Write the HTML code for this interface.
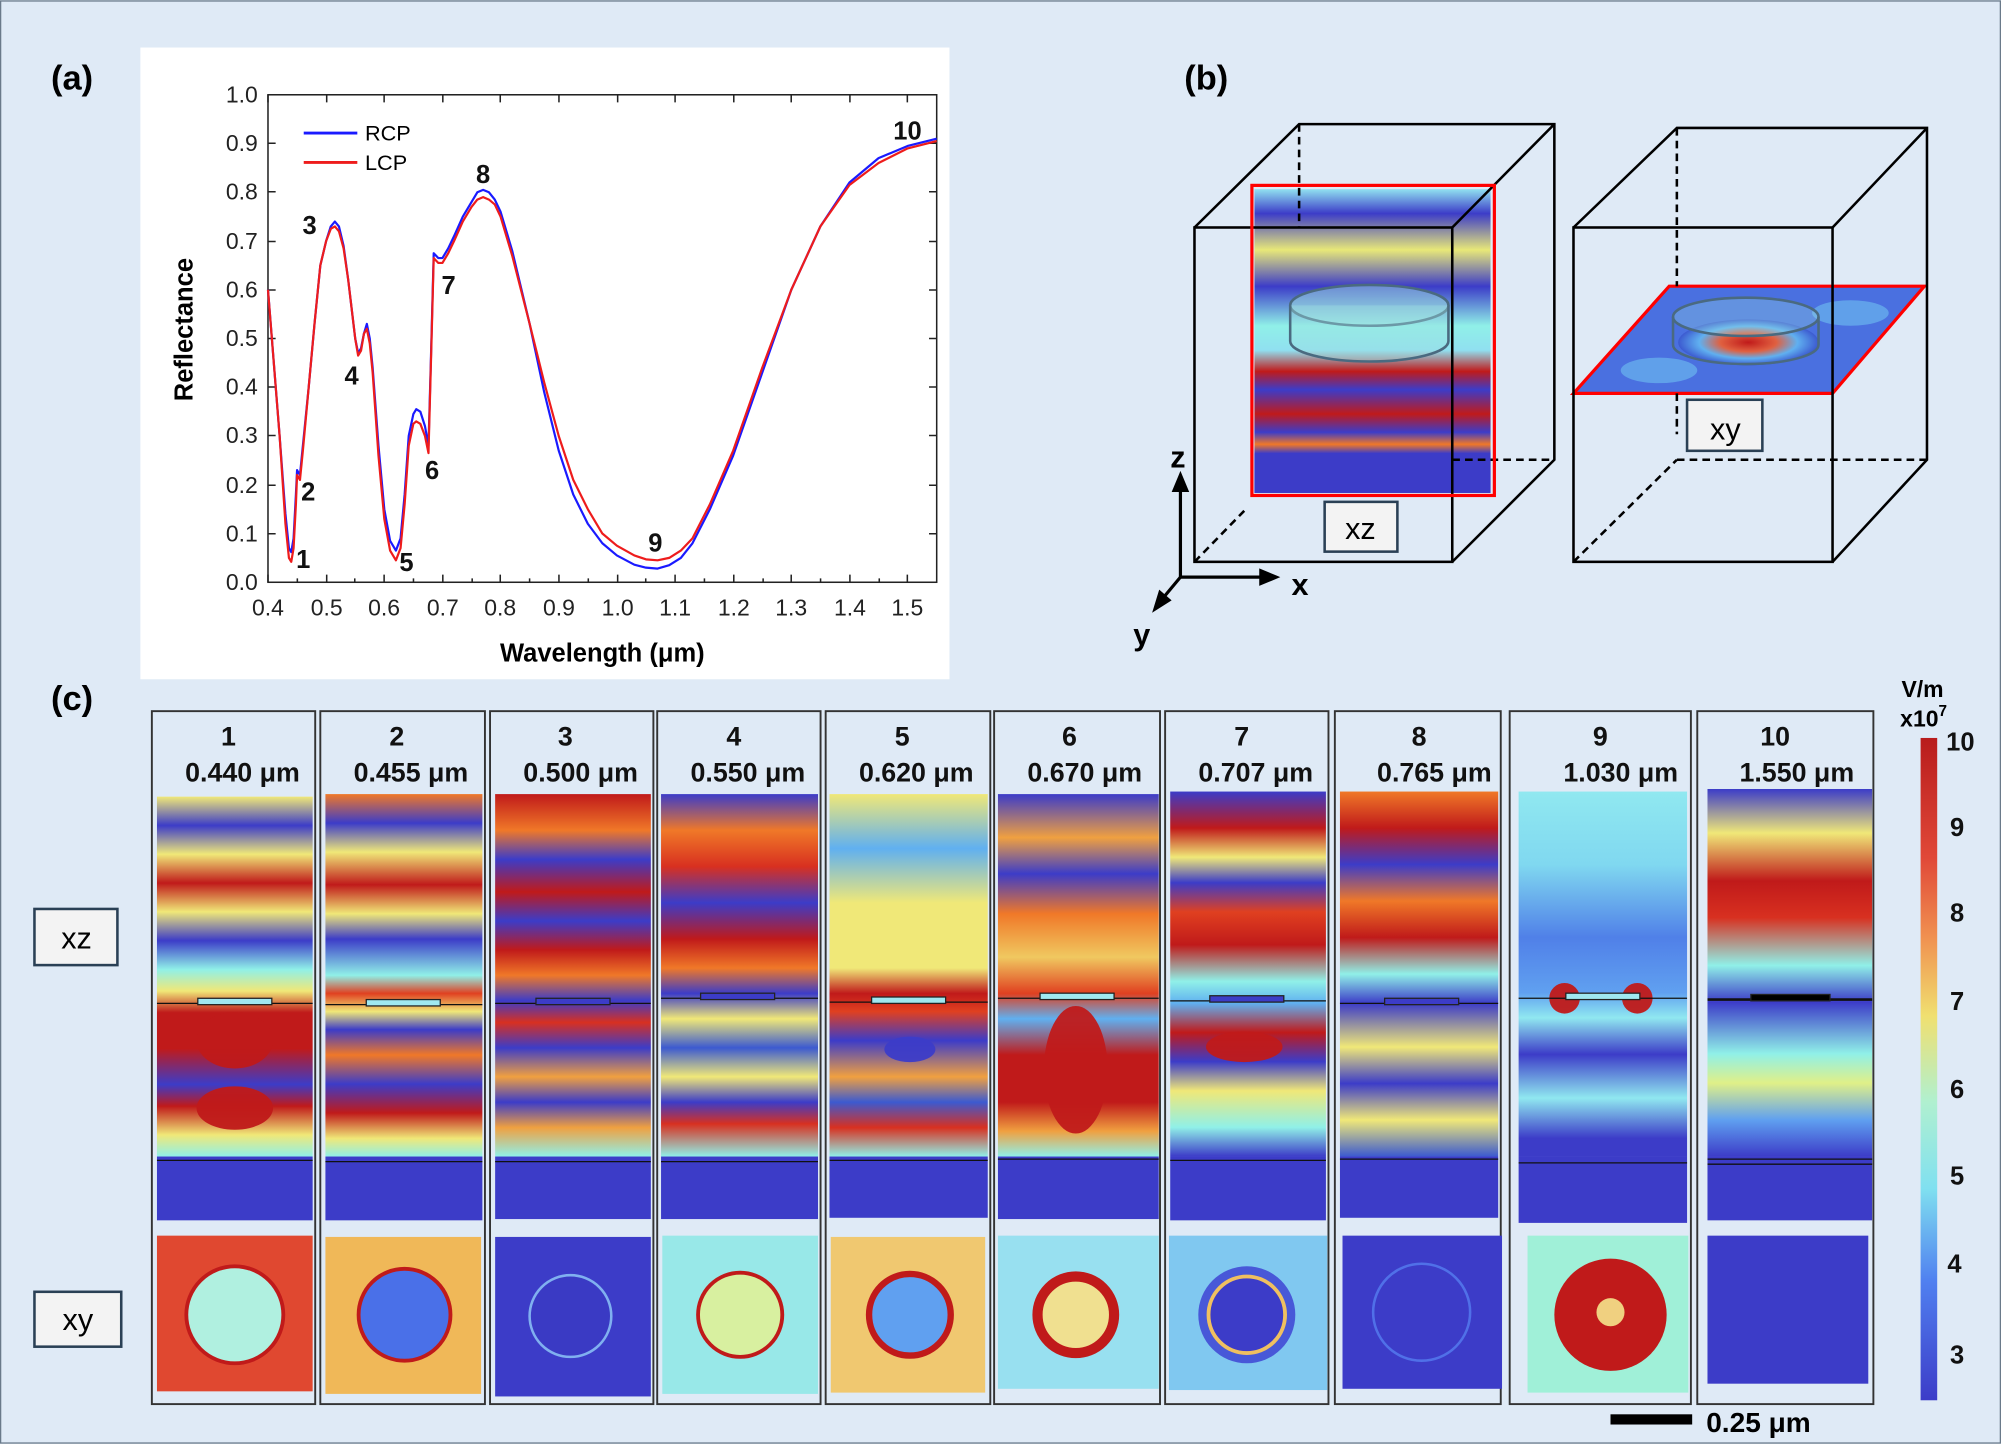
<!DOCTYPE html>
<html><head><meta charset="utf-8"><style>
html,body{margin:0;padding:0;background:#dfeaf6;}
svg{display:block;}
text{font-family:"Liberation Sans",Arial,sans-serif;}
</style></head><body>
<svg width="2001" height="1444" viewBox="0 0 1568 1131" xmlns="http://www.w3.org/2000/svg">
<defs>
<linearGradient id="g1" x1="0" y1="0" x2="0" y2="1"><stop offset="0" stop-color="#f0e878"/><stop offset=".08" stop-color="#3c3cc8"/><stop offset=".16" stop-color="#f0e878"/><stop offset=".24" stop-color="#c01a1a"/><stop offset=".32" stop-color="#f0e878"/><stop offset=".4" stop-color="#3c3cc8"/><stop offset=".48" stop-color="#90f0e8"/><stop offset=".54" stop-color="#f0e878"/><stop offset=".6" stop-color="#c01a1a"/><stop offset=".7" stop-color="#c01a1a"/><stop offset=".8" stop-color="#3c3cc8"/><stop offset=".86" stop-color="#c01a1a"/><stop offset=".94" stop-color="#f0e878"/><stop offset="1" stop-color="#90f0e8"/></linearGradient>
<linearGradient id="g2" x1="0" y1="0" x2="0" y2="1"><stop offset="0" stop-color="#f07828"/><stop offset=".08" stop-color="#3c3cc8"/><stop offset=".16" stop-color="#f0e878"/><stop offset=".25" stop-color="#c01a1a"/><stop offset=".33" stop-color="#f0e878"/><stop offset=".4" stop-color="#3c3cc8"/><stop offset=".5" stop-color="#90f0e8"/><stop offset=".55" stop-color="#e04020"/><stop offset=".6" stop-color="#f0e878"/><stop offset=".65" stop-color="#3c3cc8"/><stop offset=".72" stop-color="#f07828"/><stop offset=".8" stop-color="#3c3cc8"/><stop offset=".88" stop-color="#c01a1a"/><stop offset=".95" stop-color="#f0e878"/><stop offset="1" stop-color="#90f0e8"/></linearGradient>
<linearGradient id="g3" x1="0" y1="0" x2="0" y2="1"><stop offset="0" stop-color="#c01a1a"/><stop offset=".1" stop-color="#f07828"/><stop offset=".18" stop-color="#3c3cc8"/><stop offset=".27" stop-color="#c01a1a"/><stop offset=".35" stop-color="#3c3cc8"/><stop offset=".43" stop-color="#c01a1a"/><stop offset=".5" stop-color="#f07828"/><stop offset=".57" stop-color="#3c3cc8"/><stop offset=".63" stop-color="#d83020"/><stop offset=".7" stop-color="#3c3cc8"/><stop offset=".78" stop-color="#f0a040"/><stop offset=".85" stop-color="#3c3cc8"/><stop offset=".92" stop-color="#f0a040"/><stop offset="1" stop-color="#90f0e8"/></linearGradient>
<linearGradient id="g4" x1="0" y1="0" x2="0" y2="1"><stop offset="0" stop-color="#3c3cc8"/><stop offset=".1" stop-color="#f07828"/><stop offset=".2" stop-color="#d83020"/><stop offset=".3" stop-color="#3c3cc8"/><stop offset=".4" stop-color="#c01a1a"/><stop offset=".48" stop-color="#f07828"/><stop offset=".55" stop-color="#3c3cc8"/><stop offset=".62" stop-color="#f0e878"/><stop offset=".7" stop-color="#3c5ad0"/><stop offset=".78" stop-color="#f0e878"/><stop offset=".85" stop-color="#3c3cc8"/><stop offset=".91" stop-color="#d83020"/><stop offset="1" stop-color="#90f0e8"/></linearGradient>
<linearGradient id="g5" x1="0" y1="0" x2="0" y2="1"><stop offset="0" stop-color="#f0e878"/><stop offset=".15" stop-color="#60b0f0"/><stop offset=".3" stop-color="#f0e878"/><stop offset=".48" stop-color="#f0e878"/><stop offset=".55" stop-color="#c01a1a"/><stop offset=".6" stop-color="#e04020"/><stop offset=".68" stop-color="#3c3cc8"/><stop offset=".78" stop-color="#f0a040"/><stop offset=".85" stop-color="#3c5ad0"/><stop offset=".92" stop-color="#d83020"/><stop offset="1" stop-color="#90f0e8"/></linearGradient>
<linearGradient id="g6" x1="0" y1="0" x2="0" y2="1"><stop offset="0" stop-color="#3c3cc8"/><stop offset=".12" stop-color="#f0a040"/><stop offset=".22" stop-color="#3c3cc8"/><stop offset=".33" stop-color="#f07828"/><stop offset=".45" stop-color="#f0c860"/><stop offset=".55" stop-color="#e04020"/><stop offset=".62" stop-color="#60b0f0"/><stop offset=".72" stop-color="#c01a1a"/><stop offset=".85" stop-color="#c01a1a"/><stop offset=".93" stop-color="#f0a040"/><stop offset="1" stop-color="#90f0e8"/></linearGradient>
<linearGradient id="g7" x1="0" y1="0" x2="0" y2="1"><stop offset="0" stop-color="#3c3cc8"/><stop offset=".1" stop-color="#c01a1a"/><stop offset=".18" stop-color="#f0e878"/><stop offset=".25" stop-color="#3c3cc8"/><stop offset=".33" stop-color="#e04020"/><stop offset=".42" stop-color="#c01a1a"/><stop offset=".52" stop-color="#90f0e8"/><stop offset=".58" stop-color="#60b0f0"/><stop offset=".66" stop-color="#c01a1a"/><stop offset=".74" stop-color="#3c3cc8"/><stop offset=".82" stop-color="#f0e878"/><stop offset=".92" stop-color="#90f0e8"/><stop offset="1" stop-color="#3c3cc8"/></linearGradient>
<linearGradient id="g8" x1="0" y1="0" x2="0" y2="1"><stop offset="0" stop-color="#f07828"/><stop offset=".1" stop-color="#c01a1a"/><stop offset=".2" stop-color="#3c3cc8"/><stop offset=".3" stop-color="#f07828"/><stop offset=".4" stop-color="#c01a1a"/><stop offset=".5" stop-color="#90f0e8"/><stop offset=".58" stop-color="#3c3cc8"/><stop offset=".7" stop-color="#f0e878"/><stop offset=".8" stop-color="#3c3cc8"/><stop offset=".9" stop-color="#f0e878"/><stop offset="1" stop-color="#3c5ad0"/></linearGradient>
<linearGradient id="g9" x1="0" y1="0" x2="0" y2="1"><stop offset="0" stop-color="#90e8f0"/><stop offset=".2" stop-color="#80d8f0"/><stop offset=".4" stop-color="#5080e8"/><stop offset=".55" stop-color="#60a0f0"/><stop offset=".62" stop-color="#90e8f0"/><stop offset=".72" stop-color="#3c3cc8"/><stop offset=".84" stop-color="#90e8f0"/><stop offset=".95" stop-color="#3c3cc8"/><stop offset="1" stop-color="#3c3cc8"/></linearGradient>
<linearGradient id="g10" x1="0" y1="0" x2="0" y2="1"><stop offset="0" stop-color="#3c3cc8"/><stop offset=".12" stop-color="#f0e878"/><stop offset=".25" stop-color="#c01a1a"/><stop offset=".35" stop-color="#d83020"/><stop offset=".48" stop-color="#90f0e8"/><stop offset=".58" stop-color="#3c3cc8"/><stop offset=".72" stop-color="#90f0e8"/><stop offset=".8" stop-color="#e0f088"/><stop offset=".9" stop-color="#60a0f0"/><stop offset="1" stop-color="#3c3cc8"/></linearGradient>
<linearGradient id="gb" x1="0" y1="0" x2="0" y2="1"><stop offset="0" stop-color="#90e0f0"/><stop offset=".08" stop-color="#3c3cc8"/><stop offset=".2" stop-color="#e8e878"/><stop offset=".32" stop-color="#3c3cc8"/><stop offset=".45" stop-color="#90f0e8"/><stop offset=".53" stop-color="#90e0f0"/><stop offset=".6" stop-color="#c01a1a"/><stop offset=".66" stop-color="#3c3cc8"/><stop offset=".74" stop-color="#c01a1a"/><stop offset=".8" stop-color="#3c3cc8"/><stop offset=".84" stop-color="#f07828"/><stop offset=".87" stop-color="#3c3cc8"/><stop offset="1" stop-color="#3c3cc8"/></linearGradient>
<linearGradient id="cb" x1="0" y1="0" x2="0" y2="1"><stop offset="0" stop-color="#b81c1c"/><stop offset=".18" stop-color="#e04838"/><stop offset=".3" stop-color="#f09050"/><stop offset=".42" stop-color="#f0e070"/><stop offset=".55" stop-color="#b0f0d0"/><stop offset=".68" stop-color="#80e0f0"/><stop offset=".82" stop-color="#5080f0"/><stop offset="1" stop-color="#3c3cc8"/></linearGradient>
<radialGradient id="rxy"><stop offset="0" stop-color="#c01a1a"/><stop offset=".4" stop-color="#e06040"/><stop offset=".7" stop-color="#60b0f0"/><stop offset="1" stop-color="#3c5ad0"/></radialGradient>
</defs>
<rect x="0.5" y="0.5" width="1567" height="1130" fill="#dfeaf6" stroke="#6a7a8a"/>

<!-- (a) -->
<text x="40" y="70" font-size="27" font-weight="bold">(a)</text>
<rect x="110" y="37" width="634" height="495" fill="#fff"/>
<g stroke="#222" stroke-width="1.2" fill="none">
<rect x="210" y="74" width="524" height="382"/>
<path d="M210,456v-6M233,456v-3M256,456v-6M278,456v-3M301,456v-6M324,456v-3M347,456v-6M370,456v-3M392,456v-6M415,456v-3M438,456v-6M461,456v-3M484,456v-6M506,456v-3M529,456v-6M552,456v-3M575,456v-6M598,456v-3M620,456v-6M643,456v-3M666,456v-6M689,456v-3M711,456v-6"/>
<path d="M210,74v6M256,74v6M301,74v6M347,74v6M392,74v6M438,74v6M484,74v6M529,74v6M575,74v6M620,74v6M666,74v6M711,74v6"/>
<path d="M210,418h6M210,380h6M210,341h6M210,303h6M210,265h6M210,227h6M210,189h6M210,150h6M210,112h6M734,418h-6M734,380h-6M734,341h-6M734,303h-6M734,265h-6M734,227h-6M734,189h-6M734,150h-6M734,112h-6"/>
</g>
<g font-size="18" text-anchor="end" fill="#222">
<text x="202" y="462">0.0</text><text x="202" y="424">0.1</text><text x="202" y="386">0.2</text><text x="202" y="347">0.3</text><text x="202" y="309">0.4</text><text x="202" y="271">0.5</text><text x="202" y="233">0.6</text><text x="202" y="195">0.7</text><text x="202" y="156">0.8</text><text x="202" y="118">0.9</text><text x="202" y="80">1.0</text>
</g>
<g font-size="18" text-anchor="middle" fill="#222">
<text x="210" y="482">0.4</text><text x="256" y="482">0.5</text><text x="301" y="482">0.6</text><text x="347" y="482">0.7</text><text x="392" y="482">0.8</text><text x="438" y="482">0.9</text><text x="484" y="482">1.0</text><text x="529" y="482">1.1</text><text x="575" y="482">1.2</text><text x="620" y="482">1.3</text><text x="666" y="482">1.4</text><text x="711" y="482">1.5</text>
</g>
<text x="472" y="518" font-size="20" font-weight="bold" text-anchor="middle">Wavelength (μm)</text>
<text transform="translate(151,258) rotate(-90)" font-size="20" font-weight="bold" text-anchor="middle">Reflectance</text>
<line x1="238" y1="104" x2="280" y2="104" stroke="#1a1aff" stroke-width="2.2"/>
<text x="286" y="110" font-size="17">RCP</text>
<line x1="238" y1="127" x2="280" y2="127" stroke="#ee1c1c" stroke-width="2.2"/>
<text x="286" y="133" font-size="17">LCP</text>
<g transform="translate(210,456) scale(455.65,-382) translate(-0.4,0)" fill="none" stroke-width="2.2" stroke-linejoin="round">
<polyline vector-effect="non-scaling-stroke" stroke="#1a1aff" points="0.4,0.6 0.41,0.45 0.42,0.3 0.43,0.14 0.436,0.07 0.44,0.062 0.444,0.09 0.448,0.18 0.45,0.23 0.455,0.22 0.46,0.28 0.47,0.4 0.48,0.53 0.49,0.65 0.5,0.7 0.508,0.73 0.515,0.74 0.522,0.73 0.53,0.69 0.538,0.62 0.545,0.55 0.55,0.5 0.555,0.47 0.56,0.48 0.565,0.51 0.57,0.53 0.575,0.5 0.58,0.44 0.59,0.28 0.6,0.15 0.61,0.085 0.62,0.065 0.628,0.09 0.635,0.18 0.642,0.3 0.65,0.345 0.655,0.355 0.662,0.35 0.67,0.32 0.676,0.28 0.68,0.45 0.685,0.675 0.693,0.665 0.7,0.665 0.71,0.685 0.72,0.71 0.735,0.75 0.75,0.78 0.76,0.8 0.77,0.805 0.78,0.8 0.79,0.785 0.8,0.76 0.82,0.68 0.85,0.53 0.875,0.39 0.9,0.27 0.925,0.18 0.95,0.12 0.975,0.08 1.0,0.055 1.03,0.036 1.05,0.03 1.07,0.028 1.09,0.035 1.11,0.05 1.13,0.08 1.16,0.15 1.2,0.26 1.25,0.43 1.3,0.6 1.35,0.73 1.4,0.82 1.45,0.87 1.5,0.895 1.55,0.91"/>
<polyline vector-effect="non-scaling-stroke" stroke="#ee1c1c" points="0.4,0.6 0.41,0.45 0.42,0.3 0.43,0.12 0.436,0.05 0.44,0.042 0.444,0.07 0.448,0.16 0.45,0.22 0.455,0.21 0.46,0.27 0.47,0.4 0.48,0.53 0.49,0.65 0.5,0.7 0.508,0.725 0.515,0.73 0.522,0.72 0.53,0.685 0.538,0.62 0.545,0.55 0.55,0.5 0.555,0.465 0.56,0.475 0.565,0.51 0.57,0.52 0.575,0.49 0.58,0.43 0.59,0.26 0.6,0.13 0.61,0.065 0.62,0.045 0.628,0.07 0.635,0.16 0.642,0.28 0.65,0.325 0.655,0.33 0.662,0.325 0.67,0.3 0.676,0.265 0.68,0.44 0.685,0.665 0.693,0.655 0.7,0.655 0.71,0.675 0.72,0.7 0.735,0.74 0.75,0.77 0.76,0.785 0.77,0.79 0.78,0.785 0.79,0.775 0.8,0.75 0.82,0.67 0.85,0.53 0.875,0.41 0.9,0.3 0.925,0.21 0.95,0.15 0.975,0.1 1.0,0.075 1.03,0.055 1.05,0.047 1.07,0.045 1.09,0.05 1.11,0.065 1.13,0.09 1.16,0.16 1.2,0.27 1.25,0.44 1.3,0.6 1.35,0.73 1.4,0.815 1.45,0.86 1.5,0.89 1.55,0.905"/>
</g>
<g font-size="20" font-weight="bold" fill="#111">
<text x="232" y="445">1</text><text x="236" y="392">2</text><text x="237" y="183">3</text><text x="270" y="301">4</text><text x="313" y="447">5</text><text x="333" y="375">6</text><text x="346" y="230">7</text><text x="373" y="143">8</text><text x="508" y="432">9</text><text x="700" y="109">10</text>
</g>

<!-- (b) -->
<text x="928" y="70" font-size="27" font-weight="bold">(b)</text>
<rect x="983" y="148" width="185" height="238" fill="url(#gb)"/>
<rect x="983" y="355" width="185" height="31" fill="#3c3cc8"/>
<ellipse cx="1073" cy="239" rx="62" ry="16" fill="#a0e0e0" fill-opacity=".5" stroke="#4a6a80" stroke-width="2"/>
<path d="M1011,239v28a62,16 0 0 0 124,0v-28" fill="#a0e0e0" fill-opacity=".4" stroke="#4a6a80" stroke-width="2"/>
<g fill="none" stroke="#000" stroke-width="2">
<rect x="936" y="178" width="202" height="262"/>
<path d="M936,178L1018,97H1218V360L1138,440M1138,178L1218,97"/>
<path d="M1018,97V178M1138,360H1218M936,440L975,400" stroke-dasharray="6,4"/>
</g>
<rect x="981" y="145" width="190" height="243" fill="none" stroke="#f00" stroke-width="2.5"/>
<rect x="1038" y="393" width="57" height="39" fill="#f3f3f3" stroke="#2a4055" stroke-width="2"/>
<text x="1066" y="422" font-size="24" text-anchor="middle">xz</text>
<polygon points="1233,308 1308,224 1508,224 1436,308" fill="#4a70e0"/>
<ellipse cx="1300" cy="290" rx="30" ry="10" fill="#70c0f0" opacity=".6"/>
<ellipse cx="1450" cy="245" rx="30" ry="10" fill="#70c0f0" opacity=".6"/>
<ellipse cx="1370" cy="268" rx="55" ry="18" fill="url(#rxy)"/>
<ellipse cx="1368" cy="248" rx="57" ry="15" fill="#a0e0e0" fill-opacity=".3" stroke="#4a6a80" stroke-width="2"/>
<path d="M1311,248v22a57,15 0 0 0 114,0v-22" fill="none" stroke="#4a6a80" stroke-width="2"/>
<polygon points="1233,308 1308,224 1508,224 1436,308" fill="none" stroke="#f00" stroke-width="2.5"/>
<g fill="none" stroke="#000" stroke-width="2">
<rect x="1233" y="178" width="203" height="262"/>
<path d="M1233,178L1314,100H1510V360L1436,440M1436,178L1510,100"/>
<path d="M1314,100V224M1314,308V340M1314,360H1510M1233,440L1314,360" stroke-dasharray="6,4"/>
</g>
<rect x="1322" y="313" width="59" height="40" fill="#f3f3f3" stroke="#2a4055" stroke-width="2"/>
<text x="1352" y="344" font-size="24" text-anchor="middle">xy</text>
<g stroke="#000" stroke-width="2.5" fill="#000">
<line x1="925" y1="452" x2="925" y2="380"/><polygon points="925,372 920,384 930,384"/>
<line x1="925" y1="452" x2="992" y2="452"/><polygon points="1000,452 988,447 988,457"/>
<line x1="925" y1="452" x2="910" y2="470"/><polygon points="905,477 909,464 916,470"/>
</g>
<text x="917" y="366" font-size="24" font-weight="bold">z</text>
<text x="1012" y="466" font-size="24" font-weight="bold">x</text>
<text x="888" y="505" font-size="24" font-weight="bold">y</text>

<!-- (c) -->
<text x="40" y="556" font-size="27" font-weight="bold">(c)</text>
<rect x="27" y="712" width="65" height="44" fill="#f3f3f3" stroke="#2a4055" stroke-width="2"/>
<text x="60" y="743" font-size="24" text-anchor="middle">xz</text>
<rect x="27" y="1012" width="68" height="43" fill="#f3f3f3" stroke="#2a4055" stroke-width="2"/>
<text x="61" y="1042" font-size="24" text-anchor="middle">xy</text>

<g stroke="#333" stroke-width="1.5" fill="none">
<rect x="119" y="557" width="128" height="543"/><rect x="251" y="557" width="129" height="543"/><rect x="384" y="557" width="128" height="543"/><rect x="515" y="557" width="128" height="543"/><rect x="647" y="557" width="129" height="543"/><rect x="779" y="557" width="130" height="543"/><rect x="913" y="557" width="128" height="543"/><rect x="1046" y="557" width="130" height="543"/><rect x="1183" y="557" width="142" height="543"/><rect x="1330" y="557" width="138" height="543"/>
</g>
<!-- xz fields -->
<rect x="123" y="624" width="122" height="282" fill="url(#g1)"/>
<rect x="255" y="622" width="123" height="284" fill="url(#g2)"/>
<rect x="388" y="622" width="122" height="284" fill="url(#g3)"/>
<rect x="518" y="622" width="123" height="284" fill="url(#g4)"/>
<rect x="650" y="622" width="124" height="284" fill="url(#g5)"/>
<rect x="782" y="622" width="126" height="284" fill="url(#g6)"/>
<rect x="917" y="620" width="122" height="286" fill="url(#g7)"/>
<rect x="1050" y="620" width="124" height="286" fill="url(#g8)"/>
<rect x="1190" y="620" width="132" height="286" fill="url(#g9)"/>
<rect x="1338" y="618" width="129" height="288" fill="url(#g10)"/>
<!-- blobs -->
<g opacity=".95">
<ellipse cx="184" cy="815" rx="30" ry="22" fill="#c01a1a"/><ellipse cx="184" cy="868" rx="30" ry="17" fill="#c01a1a"/>
<ellipse cx="843" cy="838" rx="25" ry="50" fill="#c01a1a"/>
<ellipse cx="975" cy="820" rx="30" ry="12" fill="#c01a1a"/>
<ellipse cx="713" cy="822" rx="20" ry="10" fill="#3c3cc8"/>
<circle cx="1226" cy="782" r="12" fill="#c01a1a"/><circle cx="1283" cy="782" r="12" fill="#c01a1a"/>
</g>
<g stroke="#111" stroke-width="1">
<line x1="123" y1="786" x2="245" y2="786"/><line x1="255" y1="787" x2="378" y2="787"/><line x1="388" y1="786" x2="510" y2="786"/><line x1="518" y1="782" x2="641" y2="782"/><line x1="650" y1="785" x2="774" y2="785"/><line x1="782" y1="782" x2="908" y2="782"/><line x1="917" y1="784" x2="1039" y2="784"/><line x1="1050" y1="786" x2="1174" y2="786"/><line x1="1190" y1="782" x2="1322" y2="782"/><line x1="1338" y1="783" x2="1467" y2="783" stroke-width="2"/>
</g>
<g fill="#a0e8f0" stroke="#222" stroke-width="1">
<rect x="155" y="782" width="58" height="5"/><rect x="287" y="783" width="58" height="5"/><rect x="420" y="782" width="58" height="5" fill="#3c3cc8"/><rect x="549" y="778" width="58" height="5" fill="#3c3cc8"/><rect x="683" y="781" width="58" height="5"/><rect x="815" y="778" width="58" height="5"/><rect x="948" y="780" width="58" height="5" fill="#3c3cc8"/><rect x="1085" y="782" width="58" height="5" fill="#3c3cc8"/><rect x="1227" y="778" width="58" height="5"/><rect x="1372" y="779" width="62" height="5" fill="#000"/>
</g>
<!-- substrate -->
<g fill="#3c3cc8">
<rect x="123" y="906" width="122" height="50"/><rect x="255" y="906" width="123" height="50"/><rect x="388" y="906" width="122" height="49"/><rect x="518" y="906" width="123" height="49"/><rect x="650" y="906" width="124" height="48"/><rect x="782" y="906" width="126" height="49"/><rect x="917" y="906" width="122" height="50"/><rect x="1050" y="906" width="124" height="48"/><rect x="1190" y="906" width="132" height="52"/><rect x="1338" y="906" width="129" height="50"/>
</g>
<g stroke="#111" stroke-width="1"><path d="M123,909h122M255,910h123M388,910h122M518,910h123M650,909h124M782,908h126M917,909h122M1050,908h124M1190,911h132M1338,908h129M1338,912h129"/></g>
<!-- xy maps -->
<rect x="123" y="968" width="122" height="122" fill="#e04830"/><circle cx="184" cy="1030" r="38" fill="#b0f0e0" stroke="#c01a1a" stroke-width="3"/>
<rect x="255" y="969" width="122" height="123" fill="#f0b858"/><circle cx="317" cy="1030" r="36" fill="#4a70e8" stroke="#c01a1a" stroke-width="3"/>
<rect x="388" y="969" width="122" height="125" fill="#3c3cc8"/><circle cx="447" cy="1031" r="32" fill="#3a3ac4" stroke="#80b0f0" stroke-width="2"/>
<rect x="519" y="968" width="122" height="124" fill="#98e8e8"/><circle cx="580" cy="1030" r="33" fill="#d8f0a0" stroke="#c01a1a" stroke-width="3"/>
<rect x="651" y="969" width="121" height="122" fill="#f0c870"/><circle cx="713" cy="1030" r="32" fill="#60a0f0" stroke="#c01a1a" stroke-width="5"/>
<rect x="782" y="968" width="126" height="120" fill="#98e0f0"/><circle cx="843" cy="1030" r="30" fill="#f0e090" stroke="#c01a1a" stroke-width="8"/>
<rect x="916" y="968" width="124" height="121" fill="#80c8f0"/><circle cx="977" cy="1030" r="38" fill="#4858d8"/><circle cx="977" cy="1030" r="30" fill="#3c3cc8" stroke="#f0c060" stroke-width="3"/>
<rect x="1052" y="968" width="125" height="120" fill="#3c3cc8"/><circle cx="1114" cy="1028" r="38" fill="none" stroke="#5070e8" stroke-width="2"/>
<rect x="1197" y="968" width="126" height="123" fill="#a0f0d8"/><circle cx="1262" cy="1030" r="44" fill="#c01a1a"/><circle cx="1262" cy="1028" r="11" fill="#f0d080"/>
<rect x="1338" y="968" width="126" height="116" fill="#3c3cc8"/>

<g font-size="21" font-weight="bold" text-anchor="middle" fill="#111">
<text x="179" y="584">1</text><text x="190" y="612">0.440 μm</text>
<text x="311" y="584">2</text><text x="322" y="612">0.455 μm</text>
<text x="443" y="584">3</text><text x="455" y="612">0.500 μm</text>
<text x="575" y="584">4</text><text x="586" y="612">0.550 μm</text>
<text x="707" y="584">5</text><text x="718" y="612">0.620 μm</text>
<text x="838" y="584">6</text><text x="850" y="612">0.670 μm</text>
<text x="973" y="584">7</text><text x="984" y="612">0.707 μm</text>
<text x="1112" y="584">8</text><text x="1124" y="612">0.765 μm</text>
<text x="1254" y="584">9</text><text x="1270" y="612">1.030 μm</text>
<text x="1391" y="584">10</text><text x="1408" y="612">1.550 μm</text>
</g>
<!-- colorbar -->
<rect x="1505" y="578" width="13" height="519" fill="url(#cb)"/>
<text x="1490" y="546" font-size="18" font-weight="bold">V/m</text>
<text x="1489" y="569" font-size="18" font-weight="bold">x10<tspan font-size="12" dy="-8">7</tspan></text>
<g font-size="20" font-weight="bold" fill="#111">
<text x="1525" y="588">10</text><text x="1528" y="655">9</text><text x="1528" y="722">8</text><text x="1528" y="791">7</text><text x="1528" y="860">6</text><text x="1528" y="928">5</text><text x="1526" y="997">4</text><text x="1528" y="1068">3</text>
</g>
<rect x="1262" y="1108" width="64" height="8" fill="#000"/>
<text x="1337" y="1122" font-size="22" font-weight="bold">0.25 μm</text>
</svg>
</body></html>
